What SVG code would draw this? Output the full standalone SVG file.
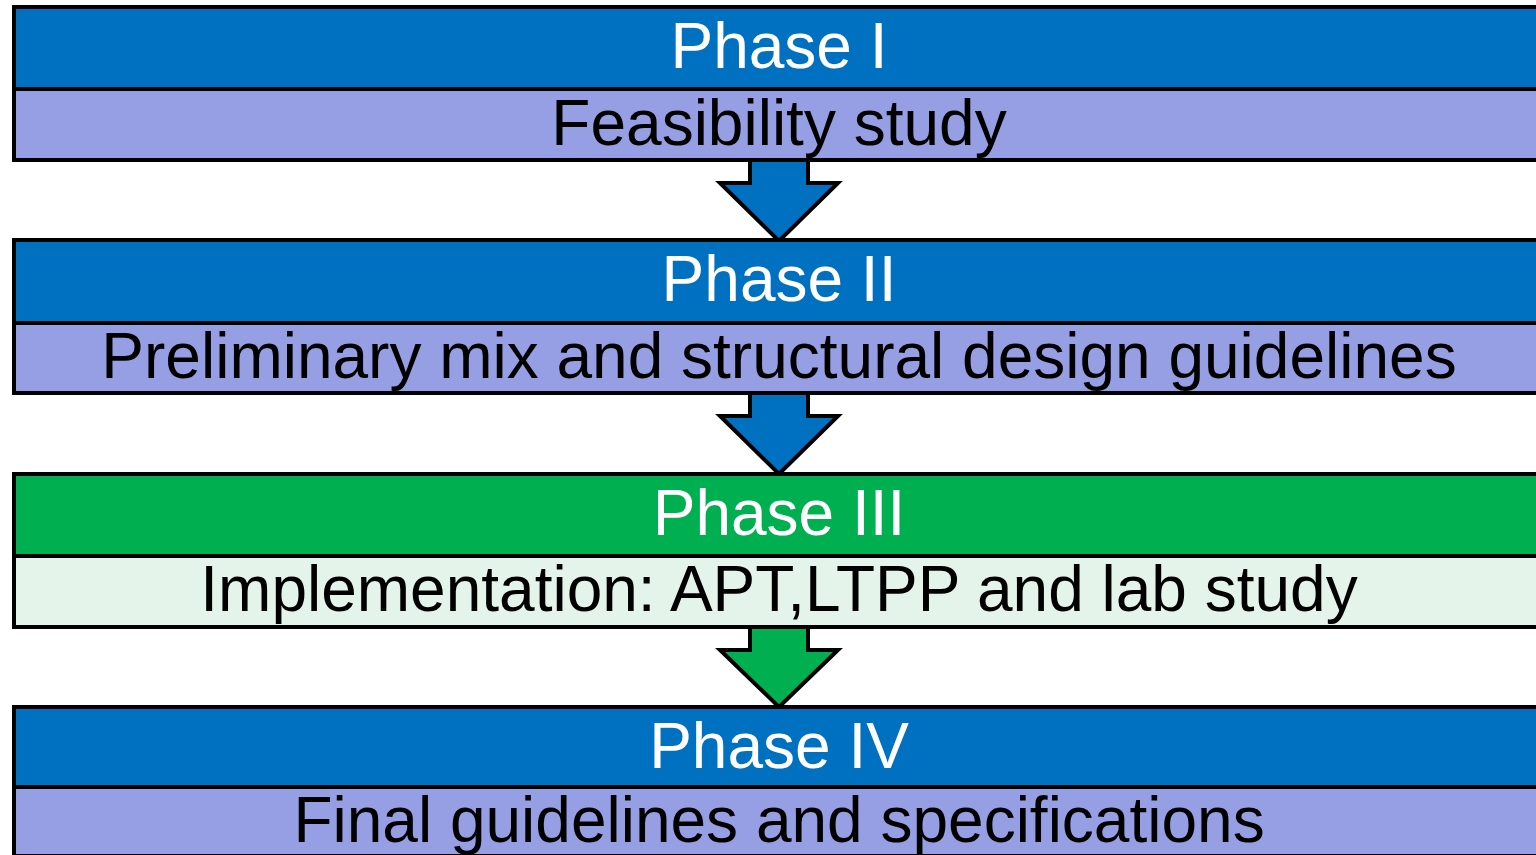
<svg xmlns="http://www.w3.org/2000/svg" width="1536" height="855" viewBox="0 0 1536 855">
  <style>
    .box { stroke: #000; stroke-width: 4; }
    .head { fill: #0070C0; }
    .head-green { fill: #00B050; }
    .sub { fill: #969FE3; }
    .sub-green { fill: #E4F4EA; }
    .title { font-family: "Liberation Sans", Arial, sans-serif; font-size: 64px; fill: #fff; text-anchor: middle; }
    .desc { font-family: "Liberation Sans", Arial, sans-serif; font-size: 64px; fill: #000; text-anchor: middle; }
    .arrow { stroke: #000; stroke-width: 4; stroke-linejoin: miter; }
  </style>
  <rect width="1536" height="855" fill="#fff"/>

  <!-- connectors: block arrows between phases -->
  <g id="connectors">
    <path class="arrow" fill="#0070C0" d="M750,159 V183 H720 L779,241 L838,183 H808 V159 Z"/>
    <path class="arrow" fill="#0070C0" d="M750,393 V416 H720 L779,474 L838,416 H808 V393 Z"/>
    <path class="arrow" fill="#00B050" d="M750,627 V650 H720 L779,707 L838,650 H808 V627 Z"/>
  </g>

  <g id="phase1">
    <rect class="box head" x="14" y="7" width="1540" height="82"/>
    <rect class="box sub" x="14" y="89" width="1540" height="71"/>
    <text class="title" x="779" y="68">Phase I</text>
    <text class="desc" x="779" y="145">Feasibility study</text>
  </g>

  <g id="phase2">
    <rect class="box head" x="14" y="240" width="1540" height="83"/>
    <rect class="box sub" x="14" y="323" width="1540" height="70"/>
    <text class="title" x="779" y="301">Phase II</text>
    <text class="desc" x="779" y="378">Preliminary mix and structural design guidelines</text>
  </g>

  <g id="phase3">
    <rect class="box head-green" x="14" y="474" width="1540" height="82"/>
    <rect class="box sub-green" x="14" y="556" width="1540" height="71"/>
    <text class="title" x="779" y="535">Phase III</text>
    <text class="desc" x="779" y="611">Implementation: APT,LTPP and lab study</text>
  </g>

  <g id="phase4">
    <rect class="box head" x="14" y="707" width="1540" height="80"/>
    <rect class="box sub" x="14" y="787" width="1540" height="69"/>
    <text class="title" x="779" y="768">Phase IV</text>
    <text class="desc" x="779" y="842">Final guidelines and specifications</text>
  </g>
</svg>
